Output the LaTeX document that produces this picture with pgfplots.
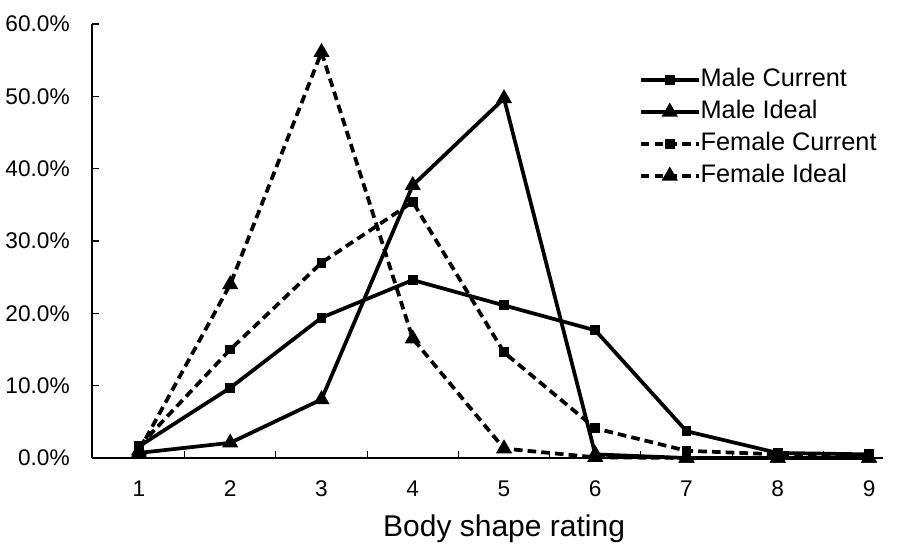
\documentclass[border=0pt]{standalone}
\usepackage{fontspec}
\setmainfont{Liberation Sans}
\usepackage{pgfplots}
\pgfplotsset{compat=1.18}
\begin{document}
\begin{tikzpicture}
\useasboundingbox (-69pt,-72pt) rectangle (607.5pt,343.5pt);
\begin{axis}[
  at={(0pt,0pt)}, anchor=south west,
  scale only axis,
  width=593.25pt, height=325.5pt,
  xmin=0.485, xmax=9.153,
  ymin=0, ymax=60,
  axis x line*=bottom, axis y line*=left,
  axis line style={line width=0.8pt, -},
  clip=false,
  xtick={1,...,9},
  major x tick style={draw=none},
  minor xtick={1.5,2.5,...,8.5},
  minor x tick style={line width=0.8pt, black},
  minor tick length=5pt,
  ytick={0,10,...,60},
  major y tick style={line width=0.8pt, black},
  major tick length=5.5pt,
  tick align=inside,
  /pgf/number format/assume math mode=true,
  yticklabel={\pgfmathprintnumber[fixed,fixed zerofill,precision=1]{\tick}\%},
  ticklabel style={font=\fontsize{17}{20}\selectfont, inner sep=0pt},
  yticklabel style={xshift=-16.5pt},
  xticklabel style={yshift=-17pt},
  xlabel={Body shape rating},
  xlabel style={at={(axis description cs:0.521,0)}, anchor=north, inner sep=0pt, yshift=-42pt, font=\fontsize{22.5}{26}\selectfont},
  legend style={draw=none, fill=none, at={(axis description cs:0.686,0.905)}, anchor=north west,
    font=\fontsize{19}{22}\selectfont,
    nodes={inner sep=0pt, text height=13.5pt, text depth=4pt},
    row sep=6.5pt},
  legend cell align=left,
  /tikz/every even column/.append style={column sep=5pt},
  legend image code/.code={%
    \draw[mark repeat=2,mark phase=2,#1] plot coordinates {(0pt,0pt) (21.75pt,0pt) (43.5pt,0pt)};},
  every axis plot/.append style={line width=2.8pt, black},
]
\addplot[solid, mark=square*, mark size=3.2pt, mark options={solid, line width=1pt}]
  coordinates {(1,1.6) (2,9.7) (3,19.4) (4,24.6) (5,21.1) (6,17.65) (7,3.7) (8,0.7) (9,0.5)};
\addlegendentry{Male Current}
\addplot[solid, mark=triangle*, mark size=6pt, mark options={solid, line width=1pt}]
  coordinates {(1,0.7) (2,2.1) (3,8.1) (4,37.7) (5,49.7) (6,0.5) (7,0) (8,0) (9,0)};
\addlegendentry{Male Ideal}
\addplot[dash pattern=on 6.5pt off 3.8pt, mark=square*, mark size=3.2pt, mark options={solid, line width=1pt}]
  coordinates {(1,1.6) (2,15.0) (3,27.0) (4,35.4) (5,14.6) (6,4.1) (7,1.0) (8,0.5) (9,0.3)};
\addlegendentry{Female Current}
\addplot[dash pattern=on 6.5pt off 3.8pt, mark=triangle*, mark size=6pt, mark options={solid, line width=1pt}]
  coordinates {(1,1.0) (2,24.0) (3,56.1) (4,16.5) (5,1.3) (6,0.1) (7,0) (8,0) (9,0)};
\addlegendentry{Female Ideal}
\end{axis}
\end{tikzpicture}
\end{document}
